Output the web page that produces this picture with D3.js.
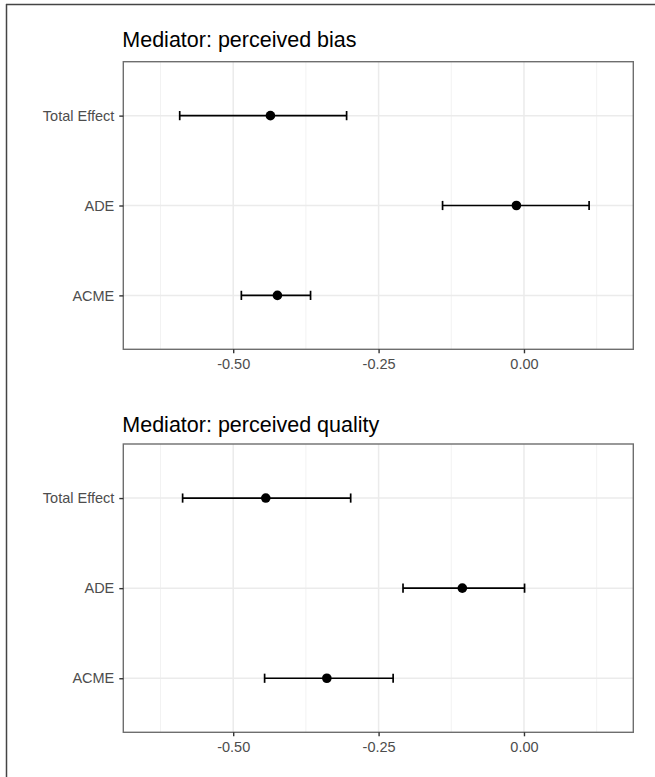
<!DOCTYPE html>
<html>
<head>
<meta charset="utf-8">
<script src="https://cdnjs.cloudflare.com/ajax/libs/d3/7.8.5/d3.min.js"></script>
<style>
body { margin: 0; background: #fff; }
svg { display: block; font-family: "Liberation Sans", Arial, sans-serif; }
</style>
</head>
<body>
<div id="chart"></div>
<script>
// effects shown on the y axis, top to bottom
var effects = ["Total Effect", "ADE", "ACME"];
var panelTitles = ["Mediator: perceived bias", "Mediator: perceived quality"];

// perceived bias
var biasEst  = [-0.436, -0.013, -0.424];
var biasLow  = [-0.592, -0.140, -0.486];
var biasHigh = [-0.305,  0.112, -0.367];

// perceived quality
var qualEst  = [-0.444, -0.106, -0.339];
var qualLow  = [-0.587, -0.208, -0.446];
var qualHigh = [-0.298,  0.001, -0.225];

var majorTicks = [-0.50, -0.25, 0.00];
var minorTicks = [-0.625, -0.375, -0.125, 0.125];
var xDomain = [-0.689, 0.188];

var W = 655, H = 777;
var svg = d3.select("#chart").append("svg")
	.attr("width", W)
	.attr("height", H);

svg.append("rect").attr("width", W).attr("height", H).attr("fill", "#fff");

// frame of the figure (left and top edges visible)
svg.append("line").attr("x1", 6.5).attr("x2", 6.5).attr("y1", 4).attr("y2", H)
	.attr("stroke", "#444").attr("stroke-width", 1.5);
svg.append("line").attr("x1", 6).attr("x2", W).attr("y1", 4.5).attr("y2", 4.5)
	.attr("stroke", "#444").attr("stroke-width", 1.5);

var panels = [
	{ title: panelTitles[0], est: biasEst, low: biasLow, high: biasHigh, titleY: 47, top: 61.7, bottom: 349.3 },
	{ title: panelTitles[1], est: qualEst, low: qualLow, high: qualHigh, titleY: 432, top: 444, bottom: 732.3 }
];

var left = 123.3, right = 633.3;

var x = d3.scaleLinear().domain(xDomain).range([left, right]);

panels.forEach(function(p) {
	var y = d3.scalePoint().domain(effects).range([p.top, p.bottom]).padding(0.6);
	var g = svg.append("g");

	g.append("text")
		.attr("x", left - 1)
		.attr("y", p.titleY)
		.attr("font-size", "21.5px")
		.attr("fill", "#000")
		.text(p.title);

	// grid
	g.selectAll(".minor").data(minorTicks).enter().append("line")
		.attr("x1", function(d) { return x(d); })
		.attr("x2", function(d) { return x(d); })
		.attr("y1", p.top).attr("y2", p.bottom)
		.attr("stroke", "#f2f2f2").attr("stroke-width", 1);
	g.selectAll(".major").data(majorTicks).enter().append("line")
		.attr("x1", function(d) { return x(d); })
		.attr("x2", function(d) { return x(d); })
		.attr("y1", p.top).attr("y2", p.bottom)
		.attr("stroke", "#ebebeb").attr("stroke-width", 1.5);
	g.selectAll(".hgrid").data(effects).enter().append("line")
		.attr("x1", left).attr("x2", right)
		.attr("y1", function(d) { return y(d); })
		.attr("y2", function(d) { return y(d); })
		.attr("stroke", "#ebebeb").attr("stroke-width", 1.5);

	// error bars
	var rows = effects.map(function(e, i) {
		return { name: e, est: p.est[i], low: p.low[i], high: p.high[i] };
	});
	var bars = g.selectAll(".bar").data(rows).enter().append("g");
	bars.append("line")
		.attr("x1", function(d) { return x(d.low); })
		.attr("x2", function(d) { return x(d.high); })
		.attr("y1", function(d) { return y(d.name); })
		.attr("y2", function(d) { return y(d.name); })
		.attr("stroke", "#000").attr("stroke-width", 1.7);
	["low", "high"].forEach(function(k) {
		bars.append("line")
			.attr("x1", function(d) { return x(d[k]); })
			.attr("x2", function(d) { return x(d[k]); })
			.attr("y1", function(d) { return y(d.name) - 4.6; })
			.attr("y2", function(d) { return y(d.name) + 4.6; })
			.attr("stroke", "#000").attr("stroke-width", 1.7);
	});
	bars.append("circle")
		.attr("cx", function(d) { return x(d.est); })
		.attr("cy", function(d) { return y(d.name); })
		.attr("r", 4.8)
		.attr("fill", "#000");

	// panel border
	g.append("rect")
		.attr("x", left).attr("y", p.top)
		.attr("width", right - left).attr("height", p.bottom - p.top)
		.attr("fill", "none").attr("stroke", "#6e6e6e").attr("stroke-width", 1.4);

	// axes
	var xAxis = d3.axisBottom(x).tickValues(majorTicks).tickSize(4).tickPadding(5)
		.tickFormat(function(d) { return d.toFixed(2); });
	var ax = g.append("g").attr("transform", "translate(0," + p.bottom + ")").call(xAxis);
	ax.select(".domain").remove();
	ax.selectAll(".tick line").attr("stroke", "#333").attr("stroke-width", 1.4);
	ax.selectAll(".tick text").attr("fill", "#4d4d4d").attr("font-size", "14.5px")
		.attr("font-family", "Liberation Sans, Arial, sans-serif");

	var yAxis = d3.axisLeft(y).tickSize(4).tickPadding(5);
	var ay = g.append("g").attr("transform", "translate(" + left + ",0)").call(yAxis);
	ay.select(".domain").remove();
	ay.selectAll(".tick line").attr("stroke", "#333").attr("stroke-width", 1.4);
	ay.selectAll(".tick text").attr("fill", "#4d4d4d").attr("font-size", "14.5px")
		.attr("font-family", "Liberation Sans, Arial, sans-serif");
});
</script>
</body>
</html>
